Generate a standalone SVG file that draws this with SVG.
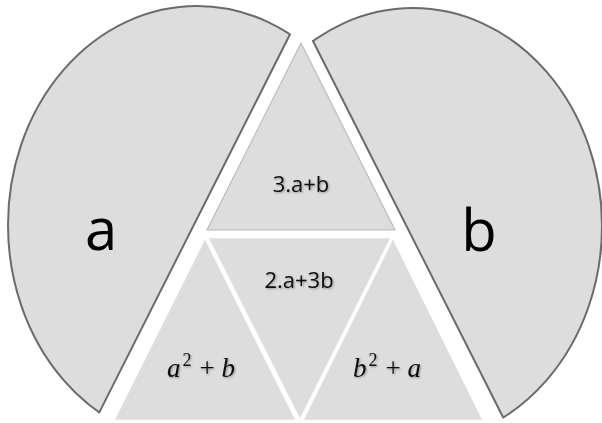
<svg xmlns="http://www.w3.org/2000/svg" width="602" height="423" viewBox="0 0 602 423">
<defs>
<style>
.chord{fill:#dddddd;stroke:#6b6b6b;stroke-width:2}
.cut{fill:none;stroke:#6b6b6b;stroke-width:2;stroke-linecap:round}
.tri{fill:#dddddd;stroke:#ffffff;stroke-width:2.5;stroke-linejoin:miter}
.top{fill:#dddddd;stroke:#bcbcbc;stroke-width:1.2}
.big{font-family:"Open Sans","Liberation Sans",sans-serif;font-size:58px;fill:#000;text-anchor:middle}
.lab{font-family:"Open Sans","Liberation Sans",sans-serif;font-size:22px;fill:#111;text-anchor:middle}
.math{font-family:"Liberation Serif","DejaVu Serif",serif;font-size:27px;fill:#111;text-anchor:middle}
</style>
<clipPath id="clipL"><polygon points="312.2,-10 85.4,440 -10,440 -10,-10"/></clipPath>
<clipPath id="clipR"><polygon points="287.2,-10 514.5,440 612,440 612,-10"/></clipPath>
<filter id="sh" x="-20%" y="-20%" width="140%" height="140%">
<feDropShadow dx="1" dy="1" stdDeviation="0.8" flood-color="#000" flood-opacity="0.35"/>
</filter>
</defs>
<rect width="602" height="423" fill="#ffffff"/>
<g id="node-a">
<ellipse class="chord" cx="197" cy="225" rx="189" ry="219" clip-path="url(#clipL)"/>
<line class="cut" x1="290" y1="34.3" x2="99.3" y2="412.4"/>
<text class="big" x="101" y="250">a</text>
</g>
<g id="node-b">
<ellipse class="chord" cx="413" cy="226" rx="189" ry="218" clip-path="url(#clipR)"/>
<line class="cut" x1="313" y1="41" x2="503.2" y2="417.5"/>
<text class="big" x="479" y="251">b</text>
</g>
<g id="node-top">
<polygon class="top" points="301,43 207,230 395,230"/>
<text class="lab" x="301" y="192" filter="url(#sh)">3.a+b</text>
</g>
<g id="node-left">
<polygon class="tri" points="205,237 113,421 297,421"/>
<text class="math" x="201" y="377" filter="url(#sh)"><tspan font-style="italic">a</tspan><tspan font-size="18" dx="2" dy="-11">2</tspan><tspan dx="8" dy="11">+</tspan><tspan dx="7" font-style="italic">b</tspan></text>
</g>
<g id="node-mid">
<polygon class="tri" points="207,237 392,237 300,421"/>
<text class="lab" x="299" y="288" filter="url(#sh)">2.a+3b</text>
</g>
<g id="node-right">
<polygon class="tri" points="393,237 302,421 484,421"/>
<text class="math" x="387" y="377" filter="url(#sh)"><tspan font-style="italic">b</tspan><tspan font-size="18" dx="2" dy="-11">2</tspan><tspan dx="8" dy="11">+</tspan><tspan dx="7" font-style="italic">a</tspan></text>
</g>
<g id="connectors"></g>
</svg>
